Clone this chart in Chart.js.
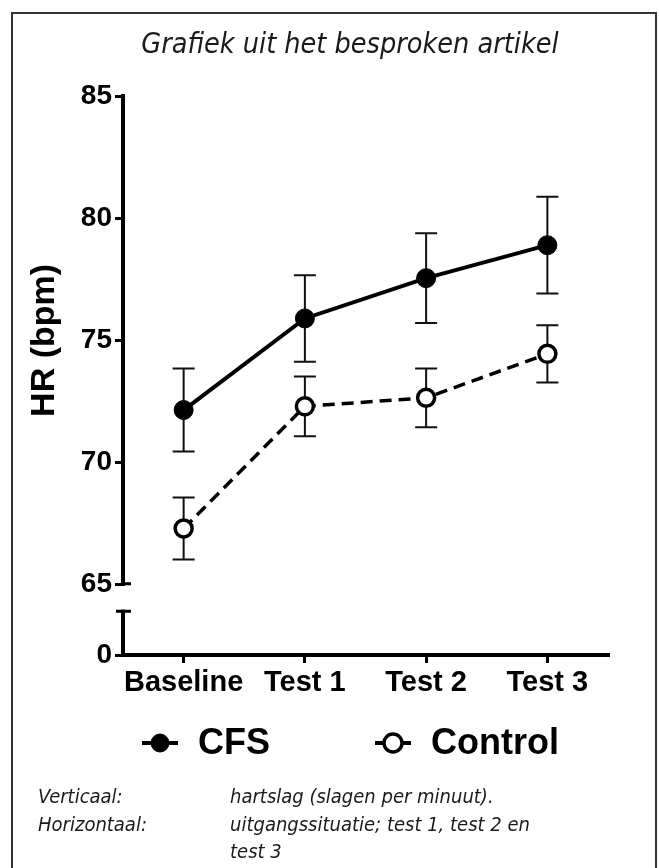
<!DOCTYPE html>
<html><head><meta charset="utf-8">
<script src="https://cdn.jsdelivr.net/npm/chart.js@4.4.1/dist/chart.umd.min.js"></script>
<style>
html,body{margin:0;padding:0;background:#fff;width:659px;height:868px;overflow:hidden;}
#frame{position:absolute;left:11px;top:12px;width:646px;height:900px;border:2px solid #333;box-sizing:border-box;}
#wrap{position:absolute;left:0;top:0;width:659px;height:868px;}
.note{position:absolute;font:italic 20px "DejaVu Sans Condensed","DejaVu Sans",sans-serif;color:#1a1a1a;white-space:nowrap;line-height:27.5px;}
</style></head>
<body>
<div id="frame"></div>
<div id="wrap"><canvas id="c" width="659" height="868"></canvas></div>
<div class="note" style="left:38px;top:783px">Verticaal:</div>
<div class="note" style="left:230px;top:783px">hartslag (slagen per minuut).</div>
<div class="note" style="left:38px;top:810.5px">Horizontaal:</div>
<div class="note" style="left:230px;top:810.5px">uitgangssituatie; test 1, test 2 en<br>test 3</div>
<script>
const categories = ['Baseline', 'Test 1', 'Test 2', 'Test 3'];
const cfsMean = [72.15, 75.9, 77.55, 78.9];
const cfsErr = [1.7, 1.77, 1.84, 1.98];
const controlMean = [67.3, 72.3, 72.65, 74.45];
const controlErr = [1.27, 1.22, 1.2, 1.17];
const upperTicks = [65, 70, 75, 80, 85];
const lowerTicks = [0];
const seriesNames = ['CFS', 'Control'];

const tickFont = {family: '"Liberation Sans", Arial, sans-serif', weight: 'bold', size: 28};
const xTickFont = {family: '"Liberation Sans", Arial, sans-serif', weight: 'bold', size: 29};

const errorBars = {
  id: 'errorBars',
  beforeDatasetsDraw(chart) {
    const ctx = chart.ctx, xs = chart.scales.x;
    chart.data.datasets.forEach((ds) => {
      const ys = chart.scales[ds.yAxisID];
      ctx.save();
      ctx.strokeStyle = '#111';
      ctx.lineWidth = 2;
      ds.data.forEach((v, j) => {
        const e = ds.errorBars[j];
        const x = xs.getPixelForValue(j);
        const yt = ys.getPixelForValue(v + e), yb = ys.getPixelForValue(v - e);
        ctx.beginPath();
        ctx.moveTo(x, yt); ctx.lineTo(x, yb);
        ctx.moveTo(x - 11, yt); ctx.lineTo(x + 11, yt);
        ctx.moveTo(x - 11, yb); ctx.lineTo(x + 11, yb);
        ctx.stroke();
      });
      ctx.restore();
    });
  }
};

const axisBreak = {
  id: 'axisBreak',
  afterDraw(chart) {
    const ctx = chart.ctx, up = chart.scales.y, low = chart.scales.yLow;
    const x = chart.chartArea.left;
    const gap = 25;
    ctx.save();
    ctx.strokeStyle = '#000';
    ctx.lineWidth = 4;
    ctx.lineCap = 'butt';
    const bottomUp = up.getPixelForValue(65);
    const topLow = bottomUp + gap;
    const zero = low.getPixelForValue(0);
    ctx.beginPath();
    ctx.moveTo(x, topLow); ctx.lineTo(x, zero + 2);
    ctx.stroke();
    ctx.lineWidth = 3;
    ctx.beginPath();
    ctx.moveTo(x - 7, topLow + 1.5); ctx.lineTo(x + 8, topLow + 1.5);
    ctx.moveTo(x - 2, bottomUp - 1); ctx.lineTo(x + 8, bottomUp - 1);
    ctx.stroke();
    ctx.restore();
  }
};

// centre the title over the plot the way the original figure does
const titleShift = {
  id: 'titleShift',
  afterLayout(chart) {
    const t = chart.titleBlock;
    if (t) { t.left = 92; t.right = chart.chartArea.right; t.width = t.right - t.left; }
  }
};

const customLegend = {
  id: 'customLegend',
  afterDraw(chart) {
    const ctx = chart.ctx;
    const y = 743;
    const centers = [160, 393];
    ctx.save();
    ctx.font = 'bold 36px "Liberation Sans", Arial, sans-serif';
    ctx.textBaseline = 'middle';
    chart.data.datasets.forEach((ds, i) => {
      const cx = centers[i];
      ctx.strokeStyle = '#000';
      ctx.lineWidth = 4;
      ctx.beginPath(); ctx.moveTo(cx - 18, y); ctx.lineTo(cx + 18, y); ctx.stroke();
      ctx.beginPath(); ctx.arc(cx, y, 9, 0, Math.PI * 2);
      ctx.fillStyle = ds.pointBackgroundColor; ctx.fill();
      ctx.lineWidth = ds.pointBorderWidth; ctx.strokeStyle = '#000'; ctx.stroke();
      ctx.fillStyle = '#000';
      ctx.fillText(ds.label, cx + 38, y + 1);
    });
    ctx.restore();
  }
};

new Chart(document.getElementById('c'), {
  type: 'line',
  data: {
    labels: categories,
    datasets: [
      {label: seriesNames[0], data: cfsMean, errorBars: cfsErr, yAxisID: 'y',
       borderColor: '#000', borderWidth: 4, pointRadius: 9.5, pointBackgroundColor: '#000',
       pointBorderColor: '#000', pointBorderWidth: 1, tension: 0, clip: false},
      {label: seriesNames[1], data: controlMean, errorBars: controlErr, yAxisID: 'y',
       borderColor: '#000', borderWidth: 3.5, borderDash: [12, 7], pointRadius: 8.5,
       pointBackgroundColor: '#fff', pointBorderColor: '#000', pointBorderWidth: 3.5, tension: 0, clip: false}
    ]
  },
  options: {
    responsive: false,
    animation: false,
    devicePixelRatio: 1,
    layout: {padding: {left: 20, right: 51, top: 0, bottom: 0}},
    plugins: {
      legend: {display: false},
      tooltip: {enabled: false},
      title: {display: true, text: 'Grafiek uit het besproken artikel', color: '#1a1a1a',
        font: {family: '"DejaVu Sans Condensed", "DejaVu Sans", sans-serif', style: 'italic', weight: 'normal', size: 28.5},
        padding: {top: 28, bottom: 34}}
    },
    scales: {
      x: {type: 'category', offset: true,
        grid: {display: true, drawOnChartArea: false, drawTicks: true, tickLength: 8, color: '#000', lineWidth: 3},
        border: {display: true, color: '#000', width: 4},
        ticks: {font: xTickFont, color: '#000', padding: 3, maxRotation: 0, autoSkip: false},
        afterFit(s) { s.height = 213; }
      },
      yLow: {type: 'linear', position: 'left', stack: 'hr', stackWeight: 70.5, min: 0, max: 10,
        afterBuildTicks(s) { s.ticks = lowerTicks.map(v => ({value: v})); },
        grid: {display: true, drawOnChartArea: false, drawTicks: true, tickLength: 8, color: '#000', lineWidth: 3},
        border: {display: false},
        ticks: {font: tickFont, color: '#000', padding: 3},
        afterFit(s) { s.width = 103; }
      },
      y: {type: 'linear', position: 'left', stack: 'hr', stackWeight: 489.5, min: 65, max: 85,
        afterBuildTicks(s) { s.ticks = upperTicks.map(v => ({value: v})); },
        grid: {display: true, drawOnChartArea: false, drawTicks: true, tickLength: 8, color: '#000', lineWidth: 3},
        border: {display: true, color: '#000', width: 4},
        ticks: {font: tickFont, color: '#000', padding: 3},
        title: {display: true, text: 'HR (bpm)', color: '#000', font: {family: '"Liberation Sans", Arial, sans-serif', weight: 'bold', size: 34}, padding: {top: 4.6, bottom: 0}},
        afterFit(s) { s.width = 103; }
      }
    }
  },
  plugins: [errorBars, axisBreak, titleShift, customLegend]
});
</script>
</body></html>
